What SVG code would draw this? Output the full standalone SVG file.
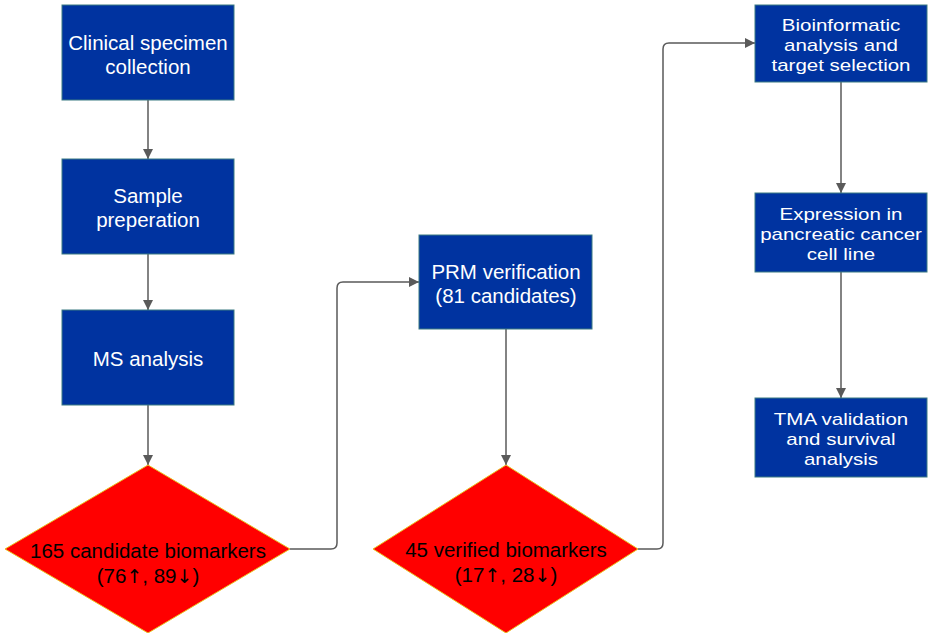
<svg xmlns="http://www.w3.org/2000/svg" width="928" height="633" viewBox="0 0 928 633">
<defs>
<marker id="ah" viewBox="0 0 10 10" refX="10" refY="5" markerWidth="10" markerHeight="10" markerUnits="userSpaceOnUse" orient="auto">
<path d="M0,0 L10,5 L0,10 z" fill="#5a5a5a"/>
</marker>
<style>
.box{fill:#0033A0;stroke:#3b7a82;stroke-width:1}
.dia{fill:#FF0000;stroke:#E8C020;stroke-width:1}
.wt{fill:#fff;font-family:"Liberation Sans",Arial,sans-serif;font-size:20.5px;text-anchor:middle}
.bt{fill:#000;font-family:"Liberation Sans",Arial,"DejaVu Sans",sans-serif;font-size:20.5px;text-anchor:middle}
.ar{font-family:"DejaVu Sans",sans-serif;font-size:19px}
.cn{fill:none;stroke:#5a5a5a;stroke-width:1.5;marker-end:url(#ah)}
</style>
</defs>
<rect width="928" height="633" fill="#fff"/>
<g id="connectors">
<path class="cn" d="M148,100 V159"/>
<path class="cn" d="M148,254 V310"/>
<path class="cn" d="M148,405 V465"/>
<path class="cn" d="M290,549 H331 Q337,549 337,543 V288 Q337,282 343,282 H419"/>
<path class="cn" d="M506,329 V465"/>
<path class="cn" d="M638,549 H657 Q663,549 663,543 V49 Q663,43 669,43 H755"/>
<path class="cn" d="M841,82 V193"/>
<path class="cn" d="M841,272 V398"/>
</g>
<g id="n1"><rect class="box" x="62" y="5" width="172" height="95"/>
<text class="wt" x="148" y="50">Clinical specimen</text><text class="wt" x="148" y="74">collection</text></g>
<g id="n2"><rect class="box" x="62" y="159" width="172" height="95"/>
<text class="wt" x="148" y="203">Sample</text><text class="wt" x="148" y="227">preperation</text></g>
<g id="n3"><rect class="box" x="62" y="310" width="172" height="95"/>
<text class="wt" x="148" y="366">MS analysis</text></g>
<g id="d1"><polygon class="dia" points="148,465 290,549 148,633 5,549"/>
<text class="bt" x="148" y="558">165 candidate biomarkers</text><text class="bt" x="148" y="583">(76<tspan class="ar">↑</tspan>, 89<tspan class="ar">↓</tspan>)</text></g>
<g id="n4"><rect class="box" x="419" y="235" width="173" height="94"/>
<text class="wt" x="506" y="279">PRM verification</text><text class="wt" x="506" y="303">(81 candidates)</text></g>
<g id="d2"><polygon class="dia" points="506,465 638,549 506,633 373,549"/>
<text class="bt" x="506" y="557">45 verified biomarkers</text><text class="bt" x="506" y="582">(17<tspan class="ar">↑</tspan>, 28<tspan class="ar">↓</tspan>)</text></g>
<g id="n5"><rect class="box" x="755" y="5" width="172" height="77"/>
<text class="wt" transform="translate(841,31) scale(1,0.84)">Bioinformatic</text><text class="wt" transform="translate(841,51) scale(1,0.84)">analysis and</text><text class="wt" transform="translate(841,71) scale(1,0.84)">target selection</text></g>
<g id="n6"><rect class="box" x="755" y="193" width="172" height="79"/>
<text class="wt" transform="translate(841,220) scale(1,0.84)">Expression in</text><text class="wt" transform="translate(841,240) scale(1,0.84)">pancreatic cancer</text><text class="wt" transform="translate(841,260) scale(1,0.84)">cell line</text></g>
<g id="n7"><rect class="box" x="755" y="398" width="172" height="79"/>
<text class="wt" transform="translate(841,425) scale(1,0.84)">TMA validation</text><text class="wt" transform="translate(841,445) scale(1,0.84)">and survival</text><text class="wt" transform="translate(841,465) scale(1,0.84)">analysis</text></g>
</svg>
